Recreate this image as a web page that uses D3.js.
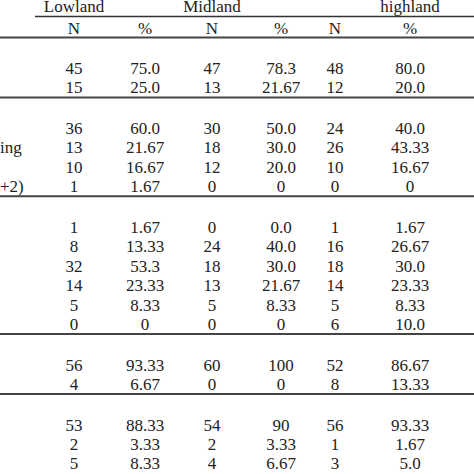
<!DOCTYPE html>
<html><head><meta charset="utf-8">
<script src="https://cdn.jsdelivr.net/npm/d3@7"></script>
<style>body{margin:0;background:#fff}text{font-family:"Liberation Serif",serif;font-size:17px;fill:#222}</style>
</head><body><svg id="t" width="474" height="474"></svg>
<script>
// table data
var groups = ["Lowland", "Midland", "highland"];
var subHeads = ["N", "%", "N", "%", "N", "%"];
var sections = [
  [["45","75.0","47","78.3","48","80.0"], ["15","25.0","13","21.67","12","20.0"]],
  [["36","60.0","30","50.0","24","40.0"], ["13","21.67","18","30.0","26","43.33"],
   ["10","16.67","12","20.0","10","16.67"], ["1","1.67","0","0","0","0"]],
  [["1","1.67","0","0.0","1","1.67"], ["8","13.33","24","40.0","16","26.67"],
   ["32","53.3","18","30.0","18","30.0"], ["14","23.33","13","21.67","14","23.33"],
   ["5","8.33","5","8.33","5","8.33"], ["0","0","0","0","6","10.0"]],
  [["56","93.33","60","100","52","86.67"], ["4","6.67","0","0","8","13.33"]],
  [["53","88.33","54","90","56","93.33"], ["2","3.33","2","3.33","1","1.67"],
   ["5","8.33","4","6.67","3","5.0"]]
];
var sideLabels = {"1-1": "ing", "1-3": "+2)"};

var svg = d3.select("#t");
var x = d3.scaleOrdinal().domain(d3.range(6)).range([74, 145, 212, 281, 335, 410]);
var groupX = [74, 212, 410];
var rowH = 19.45;

svg.selectAll("text.g").data(groups).enter().append("text")
  .attr("x", function(d, i){ return groupX[i]; }).attr("y", 12)
  .attr("text-anchor", "middle").text(function(d){ return d; });
svg.append("line").attr("x1", 35).attr("x2", 474).attr("y1", 16.5).attr("y2", 16.5)
  .attr("stroke", "#333").attr("stroke-width", 1.5);
svg.selectAll("text.s").data(subHeads).enter().append("text")
  .attr("x", function(d, i){ return x(i); }).attr("y", 34)
  .attr("text-anchor", "middle").text(function(d){ return d; });

var y = 37.5;
sections.forEach(function(sec, si){
  svg.append("line").attr("x1", 0).attr("x2", 474).attr("y1", y).attr("y2", y)
    .attr("stroke", "#444").attr("stroke-width", 2);
  var top = y + 30.5;
  sec.forEach(function(row, ri){
    var cy = top + ri * rowH;
    row.forEach(function(v, ci){
      svg.append("text").attr("x", x(ci)).attr("y", cy + 6)
        .attr("text-anchor", "middle").text(v);
    });
    var lab = sideLabels[si + "-" + ri];
    if (lab) svg.append("text").attr("x", 0).attr("y", cy + 6).text(lab);
  });
  y = top + (sec.length - 1) * rowH + 10;
});
</script></body></html>
